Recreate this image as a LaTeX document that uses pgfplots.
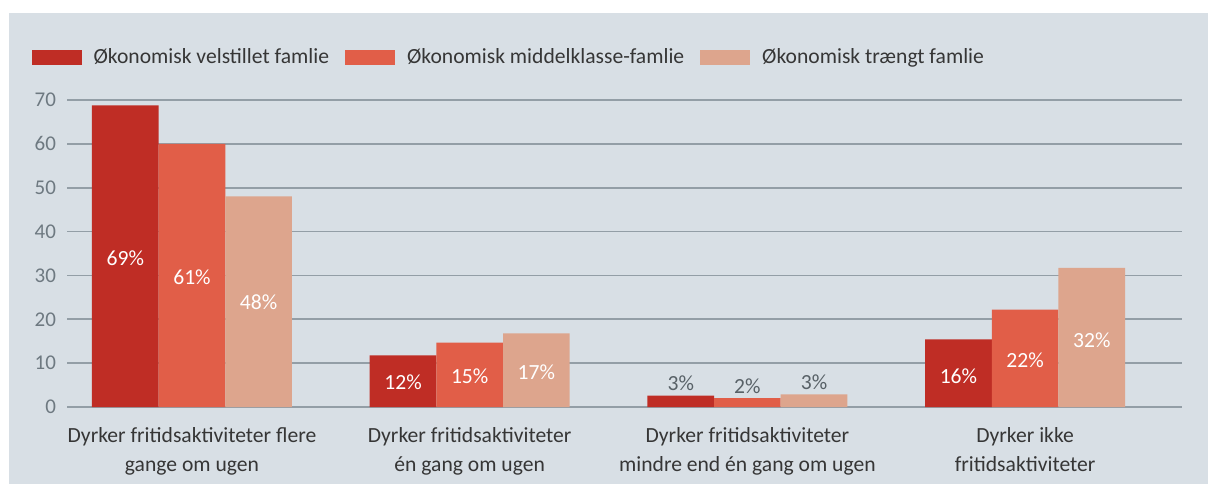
\documentclass[border=0pt]{standalone}
\usepackage{fontspec}
\setmainfont{Carlito}
\usepackage{pgfplots}
\pgfplotsset{compat=1.18}

\definecolor{bgc}{HTML}{D8DFE5}
\definecolor{gridc}{HTML}{939EA6}
\definecolor{tickc}{HTML}{6E7981}
\definecolor{txtc}{HTML}{363636}
\definecolor{velst}{HTML}{BF2D25}
\definecolor{middel}{HTML}{E15E48}
\definecolor{traengt}{HTML}{DDA58D}

\begin{document}
\begin{tikzpicture}
% 1 px of the reference = 0.5pt
\useasboundingbox (0,0) rectangle (604pt,242pt);
\fill[bgc] (4.5pt,0) rectangle (604pt,235.5pt);
\begin{axis}[
  at={(33.5pt,38.5pt)}, anchor=south west,
  scale only axis,
  width=557.5pt, height=153.5pt,
  xmin=-0.45, xmax=3.565,
  ymin=0, ymax=70,
  ytick={0,10,...,70},
  xtick={0,1,2,3},
  xticklabels={Dyrker fritidsaktiviteter flere\\gange om ugen,
               Dyrker fritidsaktiviteter\\én gang om ugen,
               Dyrker fritidsaktiviteter\\mindre end én gang om ugen,
               Dyrker ikke\\fritidsaktiviteter},
  axis line style={draw=none},
  major tick style={draw=none},
  ymajorgrids,
  grid style={gridc, line width=0.8pt},
  /pgf/number format/assume math mode=true,
  yticklabel style={font=\fontsize{10.5pt}{12pt}\selectfont, text=tickc, xshift=-2pt},
  xticklabel style={font=\fontsize{10.8pt}{14.5pt}\selectfont, text=txtc, align=center, yshift=-6.5pt},
  bar width=0.24,
  legend columns=3,
  legend style={at={(-0.0375,1.14)}, anchor=west, draw=none, fill=none,
    font=\fontsize{10.8pt}{12pt}\selectfont, text=txtc,
    /tikz/every odd column/.append style={column sep=4pt},
    /tikz/every even column/.append style={column sep=6pt}},
  legend image code/.code={\fill[#1] (0pt,-3.75pt) rectangle (25pt,3.75pt);},
  every node near coord/.append style={font=\fontsize{10.8pt}{12pt}\selectfont, anchor=center},
]
\addplot[ybar, bar shift=-0.24, draw=none, fill=velst]
  coordinates {(0,68.8) (1,11.8) (2,2.6) (3,15.4)};
\addplot[ybar, bar shift=0, draw=none, fill=middel]
  coordinates {(0,60.0) (1,14.7) (2,2.0) (3,22.2)};
\addplot[ybar, bar shift=0.24, draw=none, fill=traengt]
  coordinates {(0,48.0) (1,16.8) (2,2.9) (3,31.7)};
\legend{Økonomisk velstillet famlie, Økonomisk middelklasse-famlie, Økonomisk trængt famlie}

% value labels
\addplot[draw=none, mark=none, forget plot, nodes near coords, point meta=explicit symbolic,
  every node near coord/.append style={text=white}]
  coordinates {(-0.24,34.0)[69\%] (0.76,5.7)[12\%] (2.76,7.1)[16\%]
               (0,29.6)[61\%] (1,7.1)[15\%] (3,10.7)[22\%]
               (0.24,23.9)[48\%] (1.24,8.0)[17\%] (3.24,15.3)[32\%]};
\addplot[draw=none, mark=none, forget plot, nodes near coords, point meta=explicit symbolic,
  every node near coord/.append style={text=tickc!80!black}]
  coordinates {(1.76,5.5)[3\%] (2,4.8)[2\%] (2.24,5.7)[3\%]};
\end{axis}
\end{tikzpicture}
\end{document}
